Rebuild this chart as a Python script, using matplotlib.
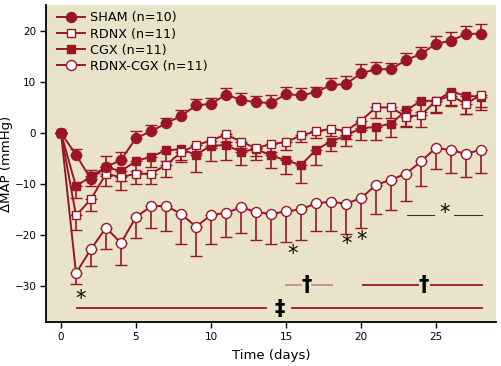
import matplotlib
matplotlib.use("Agg")
import matplotlib.pyplot as plt
from matplotlib.lines import Line2D

days = list(range(29))

sham = [0, -4.3, -9.1, -6.7, -5.3, -1.0, 0.3, 1.9, 3.3, 5.4, 5.7, 7.5, 6.5, 6.0, 5.9,
        7.6, 7.4, 8.0, 9.4, 9.6, 11.7, 12.5, 12.5, 14.3, 15.5, 17.5, 18.1, 19.4, 19.5]
sham_err = [0, 1.2, 1.8, 2.2, 1.5, 1.4, 1.3, 1.1, 1.2, 1.2, 1.2, 1.3, 1.3, 1.2, 1.5,
            1.5, 1.4, 1.1, 1.4, 1.6, 1.8, 1.5, 1.3, 1.4, 1.3, 1.6, 1.8, 1.6, 1.8]

rdnx = [0, -16.2, -13.0, -8.0, -8.7, -8.0, -8.0, -6.3, -3.8, -2.4, -1.5, -0.3, -1.7, -3.0, -2.2,
        -1.8, -0.5, 0.3, 0.8, 0.4, 2.4, 5.0, 5.0, 3.2, 3.5, 6.3, 7.3, 5.7, 7.5]
rdnx_err = [0, 2.8, 2.3, 2.4, 2.5, 2.0, 2.0, 2.3, 1.5, 1.5, 1.5, 1.5, 1.3, 1.5, 1.5,
            1.5, 1.3, 1.3, 1.5, 1.5, 1.8, 2.0, 2.0, 2.1, 2.4, 2.2, 2.0, 2.0, 2.5]

cgx = [0, -10.5, -8.5, -6.7, -7.5, -5.5, -4.7, -3.4, -3.2, -4.3, -2.5, -2.4, -3.7, -3.2, -4.4,
       -5.4, -6.3, -3.3, -1.7, -0.5, 0.9, 1.2, 1.8, 4.4, 6.3, 6.3, 8.1, 7.3, 7.1]
cgx_err = [0, 2.3, 2.0, 1.8, 2.0, 2.0, 2.0, 2.2, 2.5, 3.4, 3.1, 3.0, 2.6, 2.1, 2.4,
           2.7, 3.6, 2.9, 1.8, 2.0, 2.2, 2.5, 2.6, 3.1, 2.1, 2.4, 2.6, 3.6, 2.7]

rdnx_cgx = [0, -27.5, -22.8, -18.6, -21.6, -16.5, -14.4, -14.3, -15.9, -18.4, -16.1, -15.7, -14.6, -15.5, -15.9,
            -15.4, -15.0, -13.8, -13.5, -13.9, -12.8, -10.2, -9.2, -8.0, -5.6, -2.9, -3.4, -4.1, -3.3]
rdnx_cgx_err = [0, 2.2, 3.3, 4.1, 4.3, 4.2, 4.2, 4.9, 5.8, 5.7, 5.6, 4.8, 5.1, 5.5, 5.8,
                6.0, 6.0, 5.4, 5.7, 6.0, 5.8, 5.7, 5.9, 5.3, 4.8, 4.2, 4.5, 4.5, 4.6]

labels = ["SHAM (n=10)", "RDNX (n=11)", "CGX (n=11)", "RDNX-CGX (n=11)"]
xticks = [0, 5, 10, 15, 20, 25]
yticks = [-30, -20, -10, 0, 10, 20]

RED = "#9a1526"
BG = "#e9e4c9"
FONT = "DejaVu Sans"

fig = plt.figure(figsize=(5.02, 3.66), dpi=100)
ax = fig.add_axes([46/502, 1-322/366, 450/502, 317/366])
ax.set_facecolor(BG)

def series(y, err, marker, mfc, ms, upper, z):
    zeros = [0]*len(err)
    yerr = [zeros, err] if upper else [err, zeros]
    ax.errorbar(days, y, yerr=yerr, color=RED, lw=1.4, elinewidth=1.2, capsize=4,
                capthick=1.6, marker=marker, ms=ms, mfc=mfc, mec=RED, mew=1.0, zorder=z)

series(rdnx_cgx, rdnx_cgx_err, "o", "white", 7.2, False, 3)
series(cgx, cgx_err, "s", RED, 6.4, False, 4)
series(rdnx, rdnx_err, "s", "white", 6.4, False, 5)
series(sham, sham_err, "o", RED, 7.2, True, 6)

ax.set_xlim(-1, 29)
ax.set_ylim(-37.1, 25.1)
ax.set_xticks(xticks)
ax.set_yticks(yticks)
ax.set_yticklabels([str(v).replace("-", "\u2212") for v in yticks])
for s in ["top", "right"]:
    ax.spines[s].set_visible(False)
ax.spines["left"].set_linewidth(1.3)
ax.spines["bottom"].set_linewidth(1.3)
ax.tick_params(direction="out", length=4, width=1, labelsize=7.5, pad=3)
for lab in ax.get_xticklabels() + ax.get_yticklabels():
    lab.set_family(FONT)
ax.set_xlabel("Time (days)", fontsize=9.5, family=FONT, labelpad=5)
ax.set_ylabel("\u0394MAP (mmHg)", fontsize=9.5, family=FONT)
ax.yaxis.set_label_coords(-0.074, 0.5)

# significance annotations
LIGHT = "#c49085"
ax.plot([1.05, 13.7], [-34.4, -34.4], color=RED, lw=1.3)
ax.plot([15.4, 28.05], [-34.4, -34.4], color=RED, lw=1.3)
ax.text(1.3, -32.5, "*", fontsize=15, ha="center", va="center")
ax.text(14.6, -34.6, "\u2021", fontsize=15, fontweight="bold", ha="center", va="center")
ax.plot([15.0, 16.0], [-29.9, -29.9], color=LIGHT, lw=1.3)
ax.plot([16.75, 18.05], [-29.9, -29.9], color=LIGHT, lw=1.3)
ax.text(16.4, -29.8, "\u2020", fontsize=15, fontweight="bold", ha="center", va="center")
ax.plot([20.1, 23.8], [-29.9, -29.9], color=RED, lw=1.3)
ax.plot([24.7, 28.05], [-29.9, -29.9], color=RED, lw=1.3)
ax.text(24.2, -29.8, "\u2020", fontsize=15, fontweight="bold", ha="center", va="center")
ax.text(15.45, -23.8, "*", fontsize=15, ha="center", va="center")
ax.text(19.05, -21.8, "*", fontsize=15, ha="center", va="center")
ax.text(20.05, -21.1, "*", fontsize=15, ha="center", va="center")
ax.plot([23.07, 24.9], [-16.1, -16.1], color="#333333", lw=0.8)
ax.plot([26.2, 28.05], [-16.1, -16.1], color="#333333", lw=0.8)
ax.text(25.6, -15.8, "*", fontsize=15, ha="center", va="center")

handles = [
    Line2D([], [], color=RED, lw=1.4, marker="o", ms=7.2, mfc=RED, mec=RED),
    Line2D([], [], color=RED, lw=1.4, marker="s", ms=6.4, mfc="white", mec=RED),
    Line2D([], [], color=RED, lw=1.4, marker="s", ms=6.4, mfc=RED, mec=RED),
    Line2D([], [], color=RED, lw=1.4, marker="o", ms=7.2, mfc="white", mec=RED),
]
ax.legend(handles, labels, loc="upper left", bbox_to_anchor=(0.01, 1.0), frameon=False,
          handlelength=2.2, handletextpad=0.4, labelspacing=0.25, borderaxespad=0.1,
          prop={"family": FONT, "size": 9.2})

fig.savefig("out.png", dpi=100)
